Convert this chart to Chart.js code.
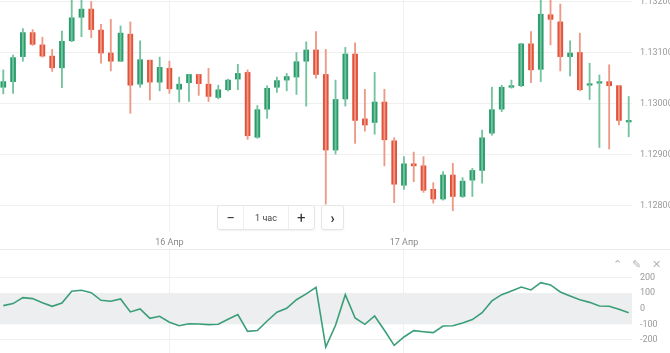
<!DOCTYPE html>
<html>
<head>
<meta charset="utf-8">
<script src="https://cdn.jsdelivr.net/npm/chart.js@4.4.1/dist/chart.umd.min.js"></script>
<style>
  body { margin: 0; background: #fff; font-family: Roboto, "Noto Sans", sans-serif; }
  #wrap { position: relative; width: 670px; height: 353px; overflow: hidden; }
  #topBox { position: absolute; left: 0; top: 0; width: 670px; height: 250px; }
  #botBox { position: absolute; left: 0; top: 250px; width: 670px; height: 103px; }
  canvas { display: block; }
  #sep { position: absolute; left: 0; top: 249px; width: 670px; height: 1px; background: #ebebeb; }
  .tf { position: absolute; top: 205px; height: 23px; background: #fff; border: 1px solid #e6e6e6;
        border-radius: 3px; box-shadow: 0 1px 2px rgba(0,0,0,0.06); display: flex; align-items: center;
        font-size: 9px; color: #444; }
  .tf span { display: flex; align-items: center; justify-content: center; height: 100%; }
  .tf .b { width: 26px; font-size: 15px; color: #333; }
  .tf .l { width: 44px; border-left: 1px solid #eee; border-right: 1px solid #eee; }
  .ic { position: absolute; top: 258px; font-size: 11px; color: #b5b5b5; }
</style>
</head>
<body>
<div id="wrap">
  <div id="topBox"><canvas id="price" width="670" height="250"></canvas></div>
  <div id="sep"></div>
  <div id="botBox"><canvas id="cci" width="670" height="103"></canvas></div>
  <div class="tf" style="left:217px;width:96px"><span class="b">−</span><span class="l">1 час</span><span class="b">+</span></div>
  <div class="tf" style="left:321px;width:21px;justify-content:center;font-size:14px;font-weight:bold;color:#333">›</div>
  <div class="ic" style="left:613px">⌃</div>
  <div class="ic" style="left:632px">✎</div>
  <div class="ic" style="left:652px">✕</div>
</div>
<script>
// hourly candles, EUR/USD style
const opens = [1.13032, 1.13043, 1.13092, 1.13139, 1.13115, 1.13093, 1.13070, 1.13123, 1.13169, 1.13185,
  1.13144, 1.13099, 1.13083, 1.13136, 1.13038, 1.13085, 1.13042, 1.13069, 1.13028, 1.13041,
  1.13057, 1.13038, 1.13012, 1.13027, 1.13048, 1.13061, 1.12934, 1.12989, 1.13032, 1.13046,
  1.13052, 1.13083, 1.13105, 1.13057, 1.12909, 1.13009, 1.13097, 1.12970, 1.12963, 1.13003,
  1.12927, 1.12840, 1.12882, 1.12878, 1.12832, 1.12813, 1.12860, 1.12818, 1.12850, 1.12869,
  1.12942, 1.12989, 1.13032, 1.13035, 1.13117, 1.13067, 1.13174, 1.13160, 1.13092, 1.13100,
  1.13036, 1.13040, 1.13043, 1.13035, 1.12964];
const closes = [1.13043, 1.13090, 1.13139, 1.13116, 1.13093, 1.13070, 1.13122, 1.13168, 1.13185, 1.13145,
  1.13099, 1.13083, 1.13138, 1.13036, 1.13086, 1.13042, 1.13071, 1.13029, 1.13038, 1.13057,
  1.13039, 1.13014, 1.13027, 1.13046, 1.13059, 1.12937, 1.12988, 1.13030, 1.13045, 1.13053,
  1.13082, 1.13105, 1.13057, 1.12909, 1.13008, 1.13097, 1.12967, 1.12958, 1.13003, 1.12929,
  1.12842, 1.12882, 1.12878, 1.12830, 1.12813, 1.12860, 1.12818, 1.12848, 1.12869, 1.12933,
  1.12988, 1.13032, 1.13035, 1.13117, 1.13066, 1.13175, 1.13165, 1.13092, 1.13099, 1.13027,
  1.13038, 1.13041, 1.13035, 1.12967, 1.12967];
const highs = [1.13066, 1.13095, 1.13147, 1.13145, 1.13130, 1.13106, 1.13142, 1.13210, 1.13215, 1.13200,
  1.13155, 1.13165, 1.13152, 1.13160, 1.13123, 1.13085, 1.13091, 1.13083, 1.13052, 1.13057,
  1.13057, 1.13069, 1.13036, 1.13048, 1.13077, 1.13066, 1.12996, 1.13035, 1.13052, 1.13059,
  1.13100, 1.13121, 1.13141, 1.13106, 1.13046, 1.13110, 1.13119, 1.13028, 1.13061, 1.13028,
  1.12933, 1.12896, 1.12905, 1.12896, 1.12845, 1.12867, 1.12883, 1.12855, 1.12873, 1.12948,
  1.13032, 1.13036, 1.13046, 1.13118, 1.13141, 1.13212, 1.13215, 1.13195, 1.13123, 1.13138,
  1.13079, 1.13056, 1.13076, 1.13035, 1.13014];
const lows = [1.13019, 1.13020, 1.13083, 1.13114, 1.13091, 1.13063, 1.13031, 1.13121, 1.13131, 1.13129,
  1.13079, 1.13064, 1.13082, 1.12981, 1.13032, 1.13007, 1.13025, 1.13020, 1.13003, 1.13004,
  1.13016, 1.13004, 1.13009, 1.13025, 1.13027, 1.12930, 1.12932, 1.12971, 1.13022, 1.13025,
  1.13018, 1.12995, 1.13050, 1.12803, 1.12901, 1.12995, 1.12922, 1.12946, 1.12940, 1.12878,
  1.12806, 1.12832, 1.12847, 1.12826, 1.12805, 1.12811, 1.12790, 1.12816, 1.12818, 1.12844,
  1.12938, 1.12984, 1.13030, 1.13033, 1.13041, 1.13043, 1.13115, 1.13064, 1.13054, 1.13025,
  1.13008, 1.12914, 1.12911, 1.12958, 1.12935];
// CCI indicator under the candles
const cci = [19, 32, 70, 64, 38, 15, 36, 111, 117, 102,
  53, 47, 62, -21, -2, -62, -49, -87, -109, -96,
  -98, -102, -100, -68, -38, -145, -140, -79, -23, 2,
  57, 94, 136, -245, -106, 89, -60, -100, -47, -138,
  -234, -181, -140, -147, -153, -111, -109, -92, -70, -26,
  49, 89, 113, 138, 119, 166, 151, 106, 81, 57,
  40, 17, 15, -4, -26];
const dayTicks = [17, 41];
const dayLabels = ['16 Апр', '17 Апр'];
const priceTicks = [1.132, 1.131, 1.130, 1.129, 1.128];
const cciTicks = [200, 100, 0, -100, -200];

const UP = '#2b9c6b', DOWN = '#e2523a';
const UP_WICK = '#74c3a0', DOWN_WICK = '#ee9985';
const isUp = i => closes[i] >= opens[i];
const xMin = -0.338, xMax = 64.337;
const tickFont = { family: 'Roboto', size: 9 };
// fixed-width right axis, and no extra room for half-cut edge labels
const rightAxisFit = s => { s.width = 38; s.paddingTop = 0; s.paddingBottom = 0; };

new Chart(document.getElementById('price'), {
  type: 'bar',
  data: {
    datasets: [
      {
        label: 'wick',
        data: lows.map((l, i) => ({ x: i, y: [l, highs[i]] })),
        backgroundColor: lows.map((l, i) => isUp(i) ? UP_WICK : DOWN_WICK),
        barThickness: 1.2,
        grouped: false
      },
      {
        label: 'body',
        data: opens.map((o, i) => ({ x: i, y: [o, closes[i]] })),
        backgroundColor: opens.map((o, i) => isUp(i) ? UP : DOWN),
        barThickness: 5,
        minBarLength: 1.5,
        grouped: false
      }
    ]
  },
  options: {
    responsive: false,
    animation: false,
    layout: { padding: 0 },
    plugins: { legend: { display: false }, tooltip: { enabled: false } },
    scales: {
      x: {
        type: 'linear', min: xMin, max: xMax, offset: false,
        afterBuildTicks: s => { s.ticks = dayTicks.map(v => ({ value: v })); },
        afterFit: s => { s.height = 18; s.paddingLeft = 0; s.paddingRight = 0; },
        ticks: { color: '#8a8a8a', font: tickFont, padding: 5, maxRotation: 0,
          callback: v => dayLabels[dayTicks.indexOf(v)] },
        grid: { color: '#f0f0f0', drawTicks: false, offset: false },
        border: { display: false }
      },
      y: {
        position: 'right', min: 1.127484, max: 1.132029,
        afterBuildTicks: s => { s.ticks = priceTicks.map(v => ({ value: v })); },
        afterFit: rightAxisFit,
        ticks: { color: '#9a9a9a', font: tickFont, padding: 8, callback: v => v.toFixed(5) },
        grid: { color: '#f0f0f0', drawTicks: false },
        border: { display: false }
      }
    }
  }
});

const bandPlugin = {
  id: 'band',
  beforeDatasetsDraw(chart) {
    const { ctx, chartArea, scales } = chart;
    const y1 = scales.y.getPixelForValue(100), y2 = scales.y.getPixelForValue(-100);
    ctx.save();
    ctx.fillStyle = '#edeef0';
    ctx.fillRect(chartArea.left, y1, chartArea.right - chartArea.left, y2 - y1);
    ctx.restore();
  }
};

new Chart(document.getElementById('cci'), {
  type: 'line',
  data: {
    datasets: [{
      data: cci.map((v, i) => ({ x: i, y: v })),
      borderColor: '#3a9e77',
      borderWidth: 1.6,
      pointRadius: 0,
      tension: 0
    }]
  },
  plugins: [bandPlugin],
  options: {
    responsive: false,
    animation: false,
    layout: { padding: 0 },
    plugins: { legend: { display: false }, tooltip: { enabled: false } },
    scales: {
      x: {
        type: 'linear', min: xMin, max: xMax,
        afterBuildTicks: s => { s.ticks = dayTicks.map(v => ({ value: v })); },
        afterFit: s => { s.height = 0; s.paddingLeft = 0; s.paddingRight = 0; },
        ticks: { display: false },
        grid: { color: '#f0f0f0', drawTicks: false },
        border: { display: false }
      },
      y: {
        position: 'right', min: -283, max: 374,
        afterBuildTicks: s => { s.ticks = cciTicks.map(v => ({ value: v })); },
        afterFit: rightAxisFit,
        ticks: { color: '#9a9a9a', font: tickFont, padding: 8, callback: v => v.toFixed(0) },
        grid: { color: c => Math.abs(c.tick.value) === 200 ? '#efefef' : 'rgba(0,0,0,0)', drawTicks: false },
        border: { display: false }
      }
    }
  }
});
</script>
</body>
</html>
